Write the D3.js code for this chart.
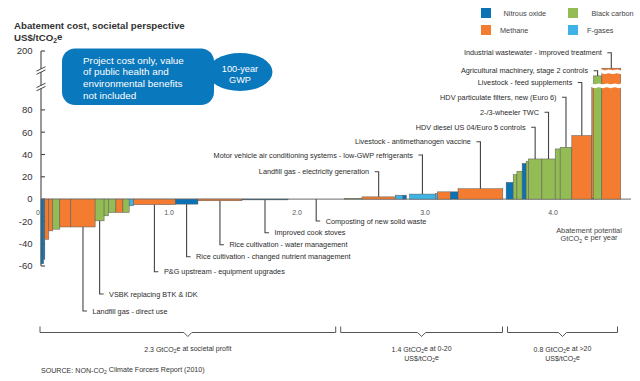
<!DOCTYPE html>
<html lang="en">
<head>
<meta charset="utf-8">
<script src="https://d3js.org/d3.v7.min.js"></script>
<style>
  body { margin: 0; background: #fff; }
  svg { font-family: "Liberation Sans", Arial, sans-serif; }
</style>
</head>
<body>
<script>
// measures along the curve, left to right
// n = nitrous oxide, m = methane, b = black carbon, f = F-gases
var gases = ["n","n","m","m","b","m","m","b","b","b","m","b","f","m","n","m","n","m","b","m",
             "f","n","f","f","f","m","n","m","m","n","b","b","n","b","b","b","b","b","m","m","b","m"];
// abatement potential, GtCO2e per year
var potential = [0.02,0.01,0.031,0.031,0.055,0.086,0.19,0.07,0.034,0.058,0.055,0.049,0.034,0.326,0.177,0.344,0.36,0.44,0.138,0.26,
                 0.06,0.026,0.026,0.2,0.018,0.1,0.06,0.35,0.026,0.055,0.029,0.041,0.031,0.018,0.105,0.104,0.039,0.091,0.156,0.0125,0.066,0.148];
// cost, US$/tCO2e (values above 100 sit beyond the axis break)
var cost = [-58,-54,-36,-28.5,-27,-25,-25,-19.5,-15,-12,-12,-12,-6,-5,-4.5,-1.5,-0.7,0,0.5,2,
            3.5,3.5,0,4.5,5,6.5,6.5,9.3,0,15,22,25,32,34,36,36,45,46.5,57,110,132,153];

var labelBars = [6,7,13,14,15,16,17,19,23,27,34,35,37,38,40,41];
var labelText = [
  "Landfill gas - direct use",
  "VSBK replacing BTK & IDK",
  "P&G upstream - equipment upgrades",
  "Rice cultivation - changed nutrient management",
  "Rice cultivation - water management",
  "Improved cook stoves",
  "Composting of new solid waste",
  "Landfill gas - electricity generation",
  "Motor vehicle air conditioning systems - low-GWP refrigerants",
  "Livestock - antimethanogen vaccine",
  "HDV diesel US 04/Euro 5 controls",
  "2-/3-wheeler TWC",
  "HDV particulate filters, new (Euro 6)",
  "Livestock - feed supplements",
  "Agricultural machinery, stage 2 controls",
  "Industrial wastewater - improved treatment"
];

var yTicks = [200, 80, 60, 40, 20, 0, -20, -40, -60];
var xTicks = [0, 1, 2, 3, 4];
var xTickLabels = ["0", "1.0", "2.0", "3.0", "4.0"];

var legendNames = ["Nitrous oxide", "Black carbon", "Methane", "F-gases"];
var legendKeys = ["n", "b", "m", "f"];

var bracketValues = [2.3, 1.4, 0.8];
var bracketLabels = [
  ["2.3 GtCO|2|e at societal profit"],
  ["1.4 GtCO|2|e at 0-20", "US$/tCO|2|e"],
  ["0.8 GtCO|2|e at >20", "US$/tCO|2|e"]
];

var color = { n: "#0b72b5", m: "#f47c30", b: "#94bc55", f: "#3fb3e6" };

var width = 640, height = 381;

var svg = d3.select("body").append("svg")
    .attr("width", width)
    .attr("height", height);

var x = d3.scaleLinear().domain([0, 4]).range([41, 553]);
var y = d3.scaleLinear().domain([-60, 100, 200]).range([266, 87.6, 51]);

// text with "|2|" turned into a subscript
function subText(sel, str) {
  str.split("|").forEach(function(p, i) {
    var t = sel.append("tspan").text(p);
    if (i % 2 == 1) t.attr("font-size", "0.7em").attr("dy", "0.3em");
    else if (i > 0) t.attr("dy", "-0.3em");
  });
}

// title
svg.append("text")
    .attr("x", 14).attr("y", 29)
    .attr("font-size", 9.7).attr("font-weight", "bold").attr("fill", "#333")
    .text("Abatement cost, societal perspective");
subText(svg.append("text")
    .attr("x", 14).attr("y", 41)
    .attr("font-size", 9.7).attr("font-weight", "bold").attr("fill", "#333"), "US$/tCO|2|e");

// callout
svg.append("rect")
    .attr("x", 62).attr("y", 48.5).attr("width", 152).attr("height", 56.5)
    .attr("rx", 13).attr("fill", "#0a78bd");
svg.append("ellipse")
    .attr("cx", 240).attr("cy", 72).attr("rx", 32.5).attr("ry", 19)
    .attr("fill", "#0a78bd");
["Project cost only, value", "of public health and", "environmental benefits", "not included"].forEach(function(s, i) {
  svg.append("text")
      .attr("x", 83).attr("y", 63.5 + i * 11.8)
      .attr("font-size", 9.9).attr("fill", "#fff")
      .text(s);
});
["100-year", "GWP"].forEach(function(s, i) {
  svg.append("text")
      .attr("x", 240).attr("y", 71.5 + i * 11.3)
      .attr("text-anchor", "middle")
      .attr("font-size", 9.2).attr("fill", "#fff")
      .text(s);
});

// legend
legendNames.forEach(function(name, i) {
  var lx = (i % 2 == 0) ? 481 : 568;
  var ly = (i < 2) ? 8 : 25;
  svg.append("rect")
      .attr("x", lx).attr("y", ly).attr("width", 10).attr("height", 10)
      .attr("fill", color[legendKeys[i]]);
  var tx = [503.5, 591.5, 500, 587][i];
  svg.append("text")
      .attr("x", tx).attr("y", ly + 7.5)
      .attr("font-size", 7.3).attr("fill", "#444")
      .text(name);
});

// y axis
var axisColor = "#444";
svg.append("line")
    .attr("x1", 41).attr("x2", 41)
    .attr("y1", y(200)).attr("y2", y(-60))
    .attr("stroke", axisColor).attr("stroke-width", 1.1);
yTicks.forEach(function(t) {
  svg.append("line")
      .attr("x1", 41).attr("x2", 45)
      .attr("y1", y(t)).attr("y2", y(t))
      .attr("stroke", axisColor).attr("stroke-width", 1.1);
  svg.append("text")
      .attr("x", 32.5).attr("y", y(t))
      .attr("dy", "0.35em")
      .attr("text-anchor", "end")
      .attr("font-size", 9.5).attr("fill", "#333")
      .text(t);
});
// axis break marks
[70.5, 87].forEach(function(by) {
  svg.append("rect")
      .attr("x", 39).attr("y", by - 1.5).attr("width", 4).attr("height", 3)
      .attr("fill", "#fff");
  [-1.6, 1.6].forEach(function(o) {
    svg.append("line")
        .attr("x1", 36.5).attr("y1", by + o + 2.2)
        .attr("x2", 45.5).attr("y2", by + o - 2.2)
        .attr("stroke", axisColor).attr("stroke-width", 1);
  });
});

// zero line
svg.append("line")
    .attr("x1", x(0)).attr("x2", 631)
    .attr("y1", y(0)).attr("y2", y(0))
    .attr("stroke", "#888").attr("stroke-width", 1.4);

// bars
var starts = [0];
potential.forEach(function(p, i) { starts.push(starts[i] + p); });

svg.append("g").selectAll("rect")
    .data(cost)
    .enter()
    .append("rect")
    .attr("x", function(d, i) { return x(starts[i]); })
    .attr("width", function(d, i) { return x(starts[i] + potential[i]) - x(starts[i]); })
    .attr("y", function(d) { return y(Math.max(0, d)); })
    .attr("height", function(d) { return Math.abs(y(d) - y(0)); })
    .attr("fill", function(d, i) { return color[gases[i]]; })
    .attr("stroke", "#5a5a5a")
    .attr("stroke-width", 0.5);

// white wavy breaks across the tall bars
function wave(x0, x1, wy) {
  var pts = [];
  for (var k = 0; x0 + k * 4 <= x1 + 4; k++) pts.push([x0 + k * 4, wy + (k % 2 ? 1.3 : -1.3)]);
  return d3.line().curve(d3.curveBasis)(pts);
}
var n = cost.length;
svg.append("path")
    .attr("d", wave(x(starts[n - 3]) - 1, x(starts[n]) + 1, 85.8))
    .attr("fill", "none").attr("stroke", "#fff").attr("stroke-width", 3.8);
svg.append("path")
    .attr("d", wave(x(starts[n - 1]) - 1, x(starts[n]) + 1, 71.8))
    .attr("fill", "none").attr("stroke", "#fff").attr("stroke-width", 3.6);

// x tick labels
xTicks.forEach(function(t, i) {
  svg.append("text")
      .attr("x", i == 0 ? x(t) - 3 : x(t)).attr("y", 214.5)
      .attr("text-anchor", "middle")
      .attr("font-size", 7).attr("fill", "#555")
      .text(xTickLabels[i]);
});

// axis title on the right
subText(svg.append("text")
    .attr("x", 589).attr("y", 232.5)
    .attr("text-anchor", "middle")
    .attr("font-size", 7.4).attr("fill", "#444"), "Abatement potential");
subText(svg.append("text")
    .attr("x", 589).attr("y", 241)
    .attr("text-anchor", "middle")
    .attr("font-size", 7.4).attr("fill", "#444"), "GtCO|2| e per year");

// leader lines and labels
var labelY = [311, 294, 271.7, 256.7, 244.7, 232.7, 221, 171.7, 155, 141.7, 127.3, 112.3, 97.3, 82.5, 70.7, 52.7];
labelBars.forEach(function(b, i) {
  var c = cost[b];
  var lx = x(starts[b] + potential[b] / 2);
  var ly = labelY[i];
  var below = ly > y(0);
  var dir = below ? 1 : -1;
  svg.append("path")
      .attr("d", "M" + lx + "," + y(c) + "V" + ly + "H" + (lx + dir * 4))
      .attr("fill", "none")
      .attr("stroke", "#444").attr("stroke-width", 1.1);
  svg.append("text")
      .attr("x", lx + dir * 9.5).attr("y", ly)
      .attr("dy", "0.35em")
      .attr("text-anchor", below ? "start" : "end")
      .attr("font-size", 7.3).attr("fill", "#2b2b2b")
      .text(labelText[i]);
});

// brackets below the chart
var bx = d3.scaleLinear().domain([0, 2.3, 3.7, 4.5]).range([40, 338.2, 505, 617.5]);
var acc = 0;
bracketValues.forEach(function(v, i) {
  var x0 = bx(acc) + (i > 0 ? 2.5 : 0);
  var x1 = bx(acc + v) - (i < bracketValues.length - 1 ? 2.5 : 0);
  var mid = (x0 + x1) / 2;
  svg.append("path")
      .attr("d", "M" + x0 + ",326.5V332.5H" + (mid - 4) + "L" + mid + ",336.5L" + (mid + 4) + ",332.5H" + x1 + "V326.5")
      .attr("fill", "none").attr("stroke", "#555").attr("stroke-width", 1);
  bracketLabels[i].forEach(function(s, j) {
    subText(svg.append("text")
        .attr("x", mid).attr("y", 352 + j * 8.7)
        .attr("text-anchor", "middle")
        .attr("font-size", 7).attr("fill", "#333"), s);
  });
  acc += v;
});

// source
subText(svg.append("text")
    .attr("x", 41).attr("y", 373)
    .attr("font-size", 7.1).attr("fill", "#333"), "SOURCE: NON-CO|2| Climate Forcers Report (2010)");
</script>
</body>
</html>
